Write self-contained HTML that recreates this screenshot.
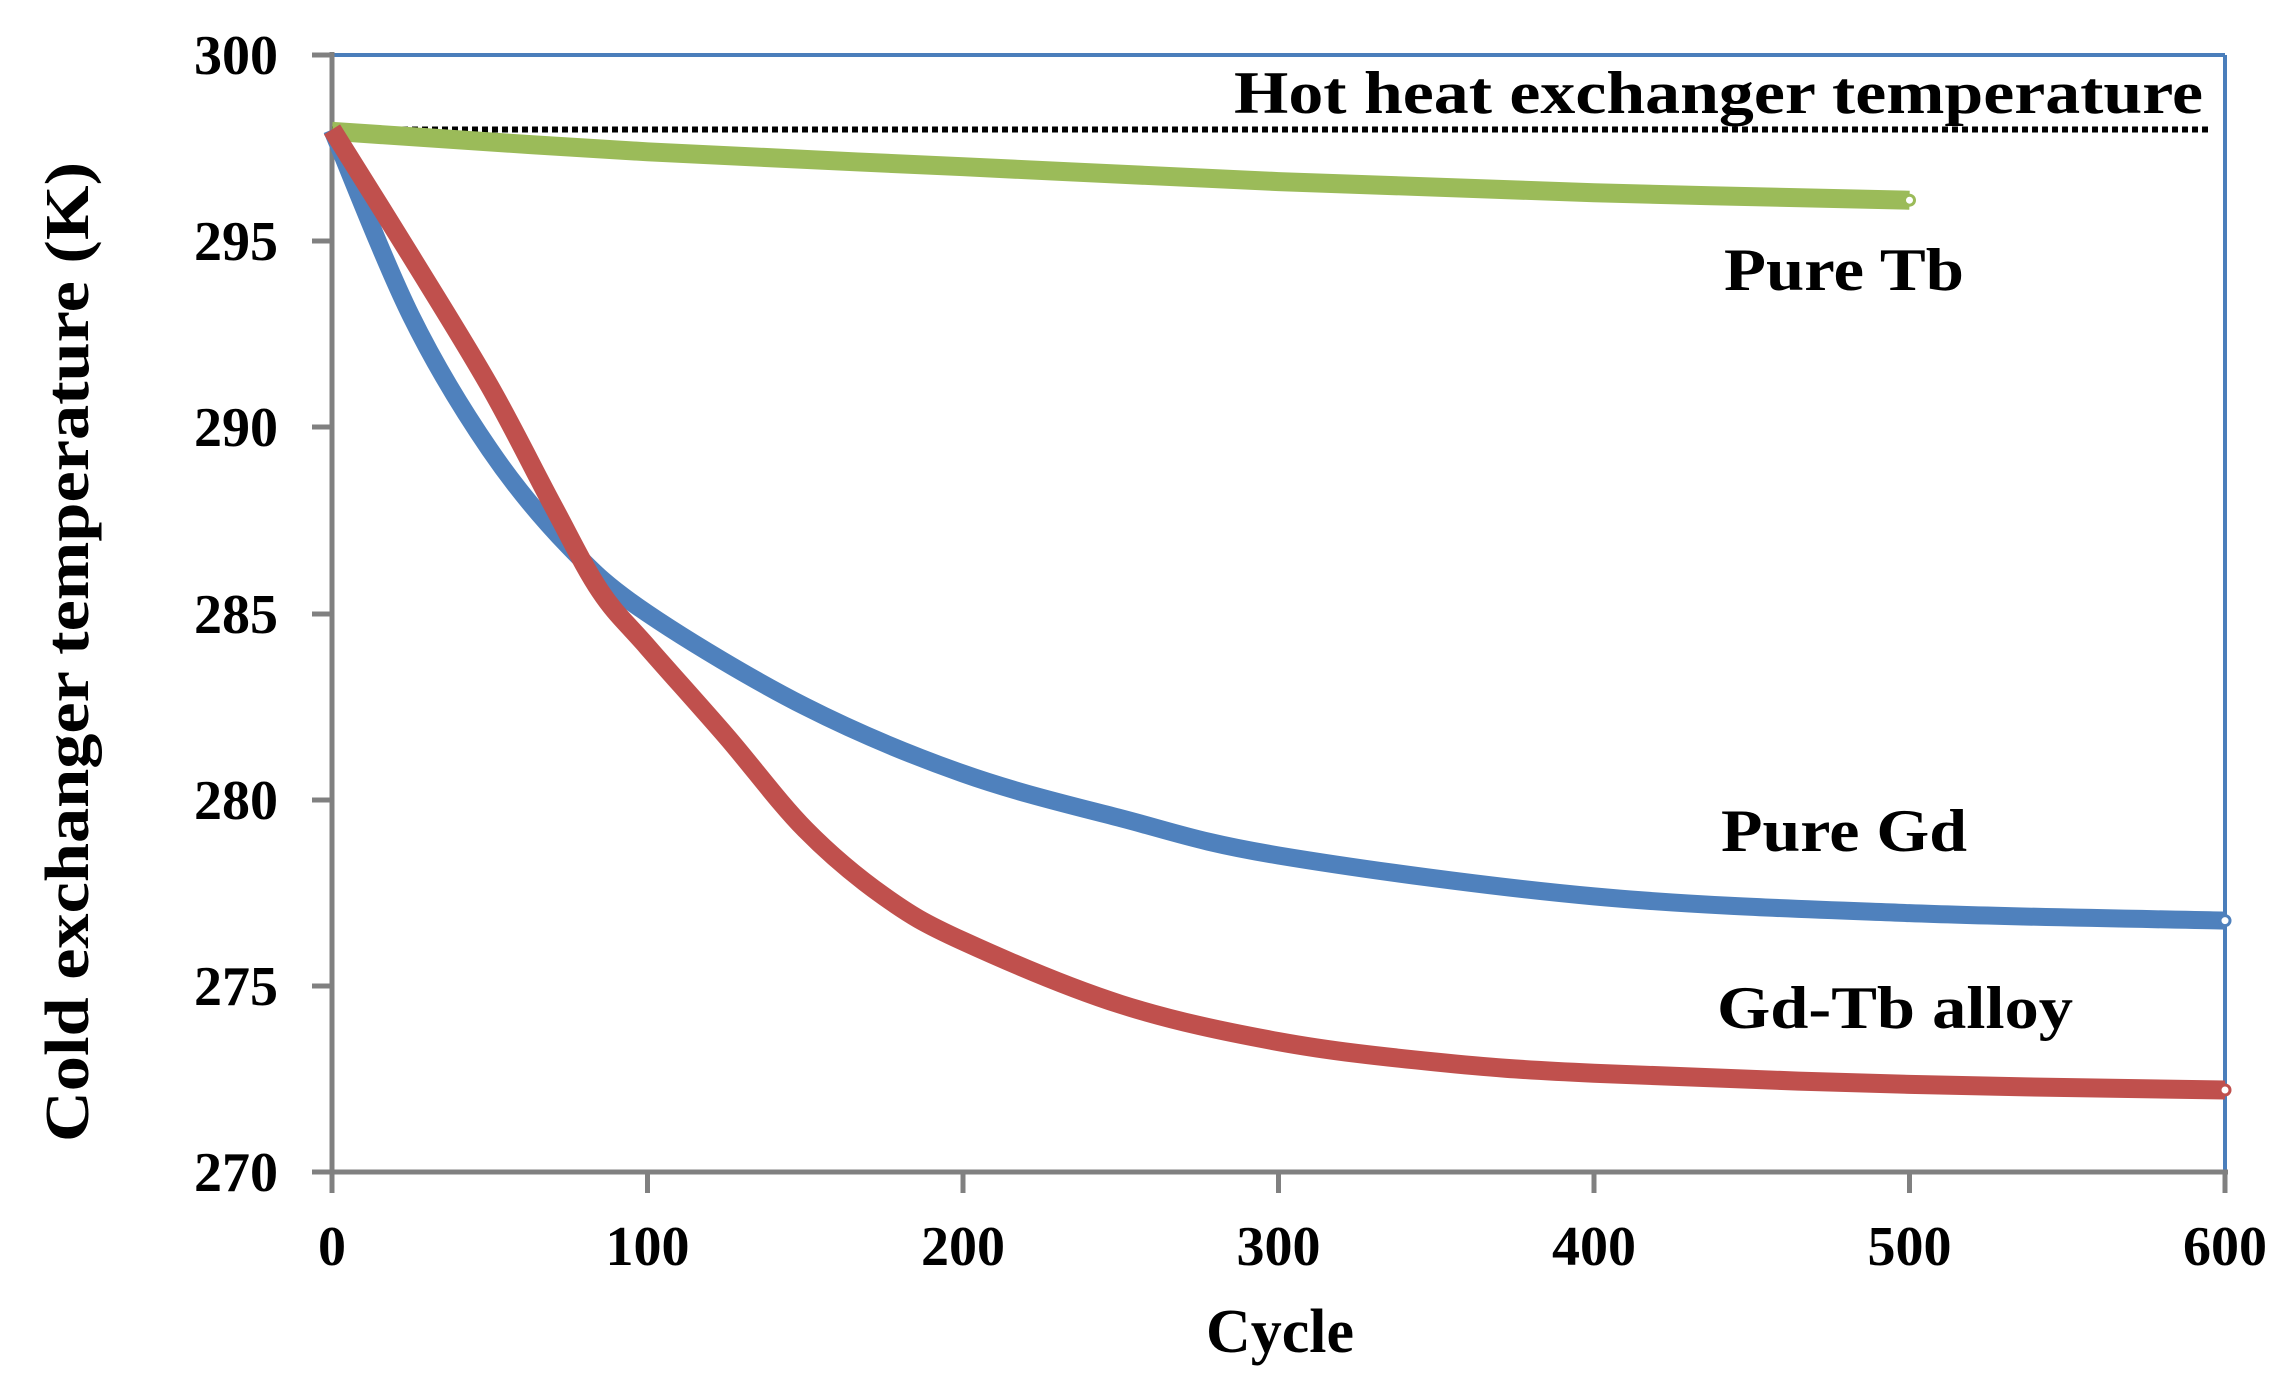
<!DOCTYPE html>
<html><head><meta charset="utf-8"><style>
html,body{margin:0;padding:0;background:#fff}
svg{display:block}
text{font-family:"Liberation Serif",serif;font-weight:bold;fill:#000}
</style></head><body>
<svg id="s" width="2281" height="1390" xmlns="http://www.w3.org/2000/svg">
<rect width="2281" height="1390" fill="#fff"/>
<line x1="332" y1="55" x2="2225" y2="55" stroke="#4a7ebb" stroke-width="4"/>
<line x1="2225" y1="55" x2="2225" y2="1172" stroke="#4a7ebb" stroke-width="4"/>
<g stroke="#808080" stroke-width="5">
<line x1="332" y1="52" x2="332" y2="1175"/>
<line x1="329" y1="1172" x2="2228" y2="1172"/>
<line x1="312" y1="55" x2="332" y2="55"/>
<line x1="312" y1="241" x2="332" y2="241"/>
<line x1="312" y1="427" x2="332" y2="427"/>
<line x1="312" y1="614" x2="332" y2="614"/>
<line x1="312" y1="800" x2="332" y2="800"/>
<line x1="312" y1="986" x2="332" y2="986"/>
<line x1="312" y1="1172" x2="332" y2="1172"/>
<line x1="332" y1="1172" x2="332" y2="1193"/>
<line x1="647.5" y1="1172" x2="647.5" y2="1193"/>
<line x1="963" y1="1172" x2="963" y2="1193"/>
<line x1="1278.5" y1="1172" x2="1278.5" y2="1193"/>
<line x1="1594" y1="1172" x2="1594" y2="1193"/>
<line x1="1909.5" y1="1172" x2="1909.5" y2="1193"/>
<line x1="2225" y1="1172" x2="2225" y2="1193"/>
</g>
<g font-size="56" text-anchor="end">
<text x="278" y="74">300</text>
<text x="278" y="260">295</text>
<text x="278" y="446">290</text>
<text x="278" y="633">285</text>
<text x="278" y="819">280</text>
<text x="278" y="1005">275</text>
<text x="278" y="1191">270</text>
</g>
<g font-size="56" text-anchor="middle">
<text x="332" y="1265">0</text>
<text x="647.5" y="1265">100</text>
<text x="963" y="1265">200</text>
<text x="1278.5" y="1265">300</text>
<text x="1594" y="1265">400</text>
<text x="1909.5" y="1265">500</text>
<text x="2225" y="1265">600</text>
</g>
<text x="1280" y="1352" font-size="62" text-anchor="middle">Cycle</text>
<text transform="translate(88,652) rotate(-90)" font-size="62" text-anchor="middle" textLength="980" lengthAdjust="spacingAndGlyphs">Cold exchanger temperature (K)</text>
<line x1="332" y1="129.5" x2="2210" y2="129.5" stroke="#000" stroke-width="6" stroke-dasharray="6,4"/>
<g id="curves"></g>
<text x="1234" y="113" font-size="60" textLength="969" lengthAdjust="spacingAndGlyphs">Hot heat exchanger temperature</text>
<text x="1724" y="290" font-size="60" textLength="240" lengthAdjust="spacingAndGlyphs">Pure Tb</text>
<text x="1721" y="851" font-size="60" textLength="246" lengthAdjust="spacingAndGlyphs">Pure Gd</text>
<text x="1717" y="1028" font-size="60" textLength="356" lengthAdjust="spacingAndGlyphs">Gd-Tb alloy</text>
</svg>
<script>
function X(c){return 332+c*3.155}
function Y(t){return 55+(300-t)*37.23}
function path(pts){
 var p=pts.map(function(a){return [X(a[0]),Y(a[1])]});
 var d="M"+p[0][0]+","+p[0][1];
 for(var i=0;i<p.length-1;i++){
  var p0=p[i>0?i-1:i],p1=p[i],p2=p[i+1],p3=p[i+2<p.length?i+2:i+1];
  var c1x=p1[0]+(p2[0]-p0[0])/6,c1y=p1[1]+(p2[1]-p0[1])/6;
  var c2x=p2[0]-(p3[0]-p1[0])/6,c2y=p2[1]-(p3[1]-p1[1])/6;
  d+=" C"+c1x+","+c1y+" "+c2x+","+c2y+" "+p2[0]+","+p2[1];
 }
 return d;
}
var series=[
 {c:"#9bbb59",w:19,p:[[0,297.95],[100,297.4],[200,297.0],[300,296.6],[400,296.3],[500,296.1]]},
 {c:"#4f81bd",w:18,p:[[0,298],[25,293.0],[50,289.4],[75,286.8],[100,285.0],[150,282.5],[200,280.7],[250,279.5],[300,278.5],[400,277.4],[500,276.95],[600,276.75]]},
 {c:"#c0504d",w:19,p:[[0,298],[25,294.6],[50,291.1],[70,287.9],[85,285.6],[100,284.1],[125,281.7],[150,279.2],[175,277.4],[200,276.2],[250,274.5],[300,273.5],[350,272.95],[400,272.65],[500,272.35],[600,272.2]]}
];
var g=document.getElementById("curves"),h="";
series.forEach(function(s){
 h+='<path d="'+path(s.p)+'" fill="none" stroke="'+s.c+'" stroke-width="'+s.w+'" stroke-linejoin="round"/>';
 var e=s.p[s.p.length-1];
 h+='<circle cx="'+X(e[0])+'" cy="'+Y(e[1])+'" r="5" fill="#fff" stroke="'+s.c+'" stroke-width="3"/>';
});
g.innerHTML=h;
</script>
</body></html>
